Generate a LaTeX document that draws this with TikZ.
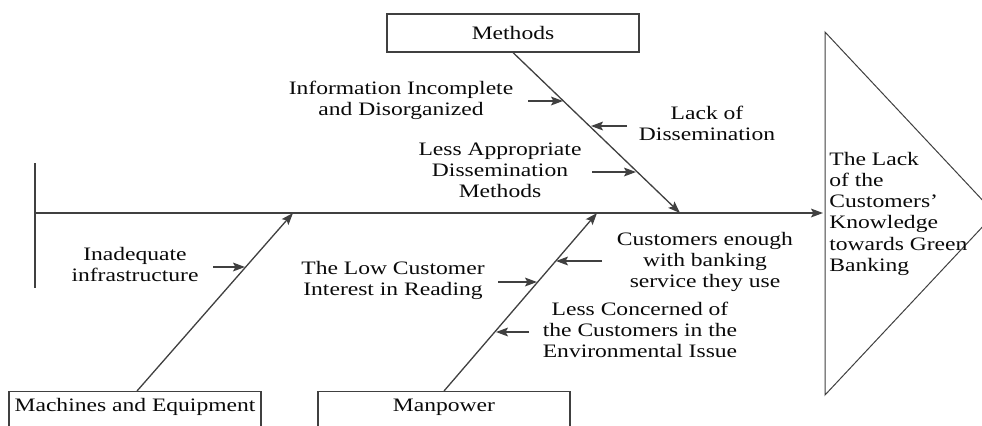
\documentclass[tikz,border=0pt]{standalone}
\usepackage{fontspec}
\setmainfont{Liberation Serif}
\usepackage{graphicx}
\usetikzlibrary{arrows.meta}
\newcommand{\stx}[1]{\scalebox{1.24}[1]{#1}}
\newcommand{\mlines}[1]{\stx{\begin{tabular}{@{}c@{}}#1\end{tabular}}}
\newcommand{\llines}[1]{\stx{\begin{tabular}{@{}l@{}}#1\end{tabular}}}
\definecolor{ln}{HTML}{404040}
\definecolor{tx}{HTML}{0A0A0A}
\begin{document}
\begin{tikzpicture}[x=0.5pt,y=-0.5pt,
  every node/.style={font=\fontsize{9.5}{10.6}\selectfont, inner sep=0pt, text=tx},
  box/.style={draw=ln, line width=0.55pt, fill=white},
  line/.style={draw=ln, line width=0.65pt},
  arr/.style={line, -{Stealth[length=6pt,width=4.4pt,inset=1.2pt]}},
  lbl/.style={align=center}]
\useasboundingbox (0,0) rectangle (982,425);
\clip (0,0) rectangle (982,425);
\fill[white] (0,0) rectangle (982,425);

% effect triangle
\coordinate (t1) at (825,32);
\coordinate (t2) at (995,213.5);
\coordinate (t3) at (825,395);
\draw[line, line width=0.5pt] (t1) -- (t2) -- (t3) -- cycle;
\node[anchor=west, align=left] (effect) at (829,214) {\llines{The Lack\\of the\\Customers’\\Knowledge\\towards Green\\Banking}};

% spine
\coordinate (vtop) at (35,163);
\coordinate (vbot) at (35,288);
\coordinate (stail) at (35,213);
\coordinate (shead) at (823,213);
\draw[line] (vtop) -- (vbot);
\draw[arr] (stail) -- (shead);

% category boxes
\node[box, minimum width=126pt, minimum height=19pt] (methods) at (513,33) {\stx{Methods}};
\node[box, minimum width=126pt, minimum height=40pt, anchor=north] (machbox) at (135,391) {};
\node (mach) at (135,407) {\stx{Machines and Equipment}};
\node[box, minimum width=126pt, minimum height=40pt, anchor=north] (manbox) at (444,391) {};
\node (man) at (444,407) {\stx{Manpower}};

% branches
\coordinate (mettip) at (680,213);
\coordinate (machtip) at (293,213);
\coordinate (mantip) at (597,213);
\draw[arr] (methods.south) -- (mettip);
\draw[arr] ([xshift=1pt]machbox.north) -- (machtip);
\draw[arr] (manbox.north) -- (mantip);

% cause labels
\node[lbl] (info) at (401,101) {\mlines{Information Incomplete\\and Disorganized}};
\node[lbl] (lack) at (707,126) {\mlines{Lack of\\Dissemination}};
\node[lbl] (lessapp) at (500,172) {\mlines{Less Appropriate\\Dissemination\\Methods}};
\node[lbl] (inad) at (135,267) {\mlines{Inadequate\\infrastructure}};
\node[lbl] (low) at (393,281) {\mlines{The Low Customer\\Interest in Reading}};
\node[lbl] (enough) at (705,262) {\mlines{Customers enough\\with banking\\service they use}};
\node[lbl] (conc) at (640,332) {\mlines{Less Concerned of\\the Customers in the\\Environmental Issue}};

% cause arrows
\coordinate (a1s) at (528,101); \coordinate (a1e) at (563,101);
\coordinate (a2s) at (627,126); \coordinate (a2e) at (591,126);
\coordinate (a3s) at (592,172); \coordinate (a3e) at (636,172);
\coordinate (a4s) at (213,267); \coordinate (a4e) at (245,267);
\coordinate (a5s) at (498,282); \coordinate (a5e) at (537,282);
\coordinate (a6s) at (602,261); \coordinate (a6e) at (556,261);
\coordinate (a7s) at (529,332); \coordinate (a7e) at (496,332);
\draw[arr] (a1s) -- (a1e);
\draw[arr] (a2s) -- (a2e);
\draw[arr] (a3s) -- (a3e);
\draw[arr] (a4s) -- (a4e);
\draw[arr] (a5s) -- (a5e);
\draw[arr] (a6s) -- (a6e);
\draw[arr] (a7s) -- (a7e);
\end{tikzpicture}
\end{document}
